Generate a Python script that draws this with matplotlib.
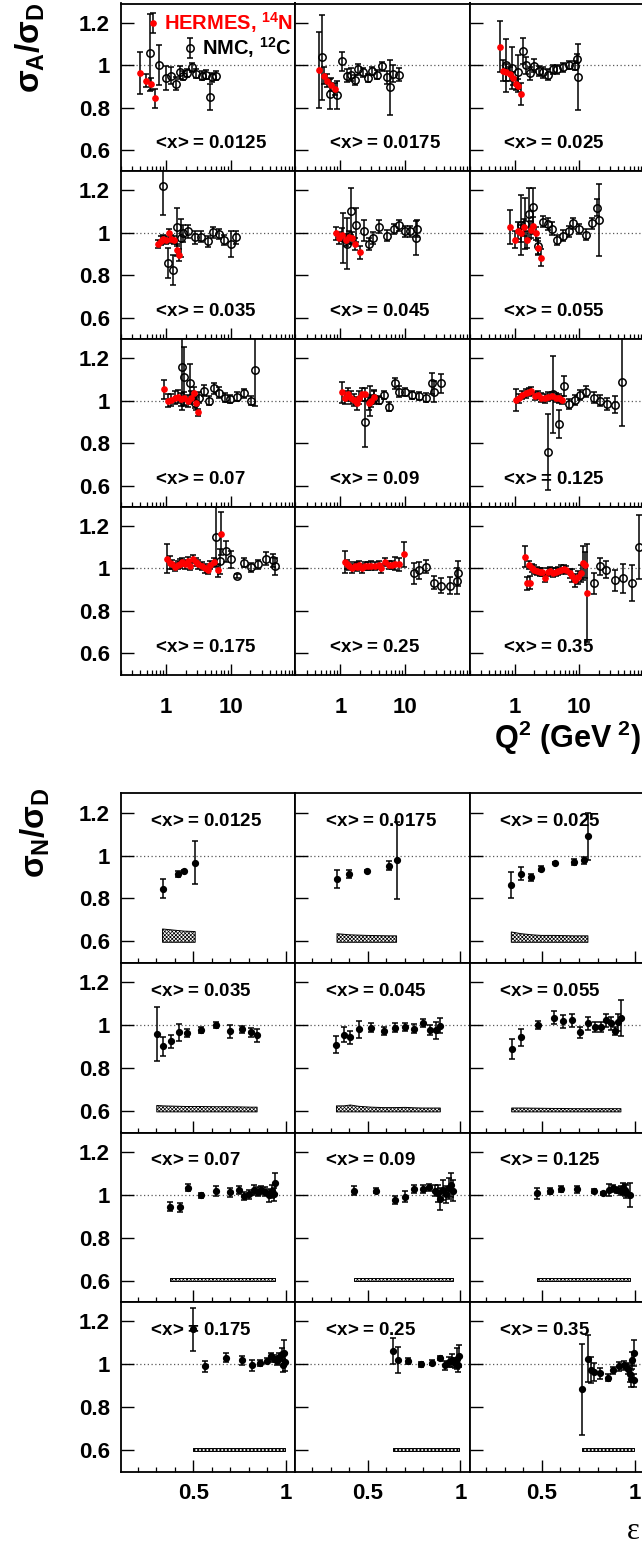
import matplotlib
matplotlib.use('Agg')
import matplotlib.pyplot as plt
from matplotlib.ticker import FixedLocator, FixedFormatter, LogLocator, NullFormatter, MultipleLocator

plt.rcParams['font.family'] = 'Liberation Sans'
plt.rcParams['font.weight'] = 'bold'
plt.rcParams['mathtext.fontset'] = 'custom'
plt.rcParams['mathtext.rm'] = 'Liberation Sans'
plt.rcParams['mathtext.it'] = 'Liberation Sans'
plt.rcParams['mathtext.bf'] = 'Liberation Sans:bold'
plt.rcParams['hatch.linewidth'] = 0.5

# <x> bins, one panel per bin in each grid
x_bins = ['0.0125', '0.0175', '0.025', '0.035', '0.045', '0.055',
          '0.07', '0.09', '0.125', '0.175', '0.25', '0.35']

# HERMES nitrogen: Q^2, ratio, stat. error per bin
hermes_q2 = [
    [0.40, 0.48, 0.59, 0.68],
    [0.47, 0.55, 0.62, 0.72, 0.82],
    [0.59, 0.65, 0.74, 0.83, 0.93, 1.04, 1.13, 1.24],
    [0.74, 0.82, 0.90, 0.99, 1.10, 1.20, 1.33, 1.47, 1.56],
    [0.85, 0.95, 1.07, 1.22, 1.37, 1.52, 1.70, 2.03],
    [0.84, 1.01, 1.12, 1.24, 1.40, 1.57, 1.76, 1.93, 2.10, 2.33, 2.51],
    [0.94, 1.06, 1.20, 1.35, 1.52, 1.71, 1.92, 2.17, 2.44, 2.68, 2.88, 3.17],
    [1.06, 1.17, 1.31, 1.48, 1.63, 1.81, 1.97, 2.17, 2.44, 2.75, 3.02, 3.33],
    [1.04, 1.17, 1.31, 1.48, 1.67, 1.81, 2.04, 2.30, 2.59, 2.92, 3.28, 3.84, 4.32, 4.86, 5.47],
    [1.02, 1.15, 1.25, 1.38, 1.52, 1.65, 1.79, 1.97, 2.17, 2.38, 2.65, 2.88, 3.17, 3.57,
     4.02, 4.42, 4.81, 5.42, 6.33, 7.12],
    [1.17, 1.27, 1.38, 1.52, 1.67, 1.81, 1.97, 2.17, 2.38, 2.68, 3.02, 3.49, 3.93, 4.32,
     4.98, 5.60, 6.33, 7.12, 8.20, 9.58],
    [1.45, 1.55, 1.67, 1.71, 1.83, 2.02, 2.22, 2.44, 2.68, 2.95, 3.25, 3.57, 3.93, 4.32,
     4.75, 5.22, 5.75, 6.33, 7.12, 7.80, 8.60, 9.50, 10.5, 11.5, 12.3, 13.2],
]
hermes_ratio = [
    [0.962, 0.927, 0.911, 0.844],
    [0.977, 0.950, 0.927, 0.908, 0.888],
    [1.086, 0.973, 0.966, 0.958, 0.938, 0.911, 0.903, 0.864],
    [0.948, 0.964, 0.972, 0.967, 0.998, 0.972, 0.967, 0.920, 0.896],
    [0.998, 0.976, 0.992, 0.967, 0.980, 0.976, 0.948, 0.909],
    [1.030, 0.967, 1.011, 0.998, 1.027, 0.967, 1.014, 1.033, 0.998, 0.930, 0.882],
    [1.053, 1.000, 1.003, 1.014, 1.019, 1.006, 1.011, 0.998, 1.014, 1.034, 0.987, 0.945],
    [1.039, 1.014, 1.030, 1.014, 1.003, 0.988, 1.014, 1.030, 1.030, 0.988, 0.998, 1.019],
    [1.003, 1.011, 1.027, 1.034, 1.042, 1.045, 1.023, 1.027, 1.014, 1.011, 1.019, 1.023,
     1.014, 1.011, 1.003],
    [1.047, 1.028, 1.019, 1.008, 1.016, 1.023, 1.031, 1.019, 1.034, 1.011, 1.044, 1.031,
     1.019, 1.011, 1.000, 0.992, 1.016, 1.031, 0.992, 1.164],
    [1.031, 1.019, 1.011, 1.000, 1.011, 1.008, 1.016, 1.000, 1.011, 1.011, 1.013, 1.011,
     1.016, 1.000, 1.031, 1.016, 1.016, 1.023, 1.019, 1.066],
    [1.055, 0.930, 1.016, 0.933, 1.003, 0.995, 0.989, 0.984, 0.984, 0.956, 0.984, 0.988,
     0.980, 0.984, 0.988, 0.995, 0.997, 0.992, 0.977, 0.966, 0.945, 0.958, 0.977, 1.028,
     1.016, 0.883],
]
hermes_err = [
    [0.10, 0.03, 0.03, 0.045],
    [0.18, 0.04, 0.03, 0.03, 0.03],
    [0.12, 0.05, 0.04, 0.035, 0.03, 0.03, 0.03, 0.05],
    [0.02, 0.02, 0.02, 0.02, 0.02, 0.02, 0.02, 0.03, 0.03],
    [0.03, 0.03, 0.03, 0.03, 0.03, 0.03, 0.03, 0.03],
    [0.08, 0.04, 0.04, 0.04, 0.04, 0.04, 0.04, 0.04, 0.03, 0.03, 0.04],
    [0.045, 0.03, 0.03, 0.03, 0.03, 0.03, 0.03, 0.03, 0.03, 0.03, 0.03, 0.015],
    [0.05, 0.03, 0.03, 0.03, 0.03, 0.03, 0.03, 0.03, 0.03, 0.03, 0.03, 0.03],
    [0.05, 0.02, 0.02, 0.02, 0.02, 0.02, 0.02, 0.02, 0.02, 0.02, 0.02, 0.02, 0.02, 0.02, 0.02],
    [0.07, 0.03, 0.02, 0.02, 0.02, 0.02, 0.02, 0.02, 0.02, 0.02, 0.02, 0.02, 0.02, 0.02,
     0.02, 0.02, 0.02, 0.02, 0.03, 0.10],
    [0.05, 0.02, 0.02, 0.02, 0.02, 0.02, 0.02, 0.02, 0.02, 0.02, 0.02, 0.02, 0.02, 0.02,
     0.02, 0.02, 0.02, 0.03, 0.03, 0.06],
    [0.05, 0.03, 0.02, 0.03, 0.02, 0.02, 0.02, 0.02, 0.02, 0.02, 0.02, 0.02, 0.02, 0.02,
     0.02, 0.02, 0.02, 0.02, 0.02, 0.03, 0.03, 0.03, 0.04, 0.08, 0.06, 0.23],
]

# NMC carbon: Q^2, ratio, stat. error per bin
nmc_q2 = [
    [0.56, 0.77, 0.99, 1.21, 1.43, 1.63, 1.83, 2.07, 2.50, 2.95, 3.60, 4.20, 4.75, 5.20, 5.95],
    [0.52, 0.68, 0.90, 1.07, 1.25, 1.44, 1.67, 1.88, 2.24, 2.68, 3.13, 3.70, 4.36, 5.30,
     5.95, 6.50, 8.00],
    [0.74, 0.92, 1.11, 1.32, 1.52, 1.73, 1.99, 2.36, 2.78, 3.28, 3.88, 4.59, 5.55, 6.94,
     8.50, 9.30, 9.45],
    [0.90, 1.07, 1.27, 1.47, 1.70, 1.85, 2.20, 2.75, 3.43, 4.47, 5.32, 6.60, 8.00, 10.2, 11.9],
    [1.10, 1.27, 1.47, 1.76, 2.30, 2.76, 3.20, 3.97, 5.30, 6.75, 8.20, 9.95, 11.8, 14.8, 15.4],
    [1.26, 1.46, 1.66, 1.93, 2.33, 2.70, 3.26, 3.77, 4.50, 5.65, 6.80, 8.10, 10.05, 12.5,
     15.5, 18.5, 20.0],
    [1.75, 1.92, 2.36, 2.75, 3.28, 3.79, 4.64, 5.54, 6.62, 8.20, 9.83, 12.4, 16.2, 20.5, 23.9],
    [2.38, 2.82, 3.36, 4.02, 4.69, 5.60, 6.94, 8.20, 10.1, 12.6, 16.4, 20.8, 26.4, 28.0, 36.3],
    [3.32, 3.93, 4.81, 5.75, 6.95, 8.50, 10.2, 12.9, 16.7, 21.2, 27.0, 36.3, 45.0],
    [5.96, 6.86, 8.50, 10.2, 12.7, 16.2, 20.5, 26.9, 35.5, 45.0, 47.7],
    [13.7, 16.4, 20.8, 28.0, 36.7, 49.6, 64.5, 66.6],
    [16.8, 20.8, 25.6, 35.5, 47.7, 65.6, 83.0],
]
nmc_ratio = [
    [1.059, 1.000, 0.939, 0.950, 0.912, 0.966, 0.950, 0.962, 0.989, 0.960, 0.950, 0.955,
     0.850, 0.942, 0.950],
    [1.036, 0.864, 0.860, 1.017, 0.950, 0.955, 0.930, 0.980, 0.966, 0.939, 0.973, 0.955,
     0.994, 0.942, 0.895, 0.960, 0.955],
    [1.000, 0.986, 0.966, 1.067, 1.000, 0.962, 0.997, 0.973, 0.966, 0.955, 0.980, 0.980,
     0.989, 1.000, 0.997, 1.031, 0.945],
    [1.223, 0.857, 0.827, 1.027, 0.976, 0.998, 1.008, 0.980, 0.983, 0.960, 1.003, 0.995,
     0.967, 0.948, 0.980],
    [0.976, 0.948, 1.102, 1.035, 1.010, 0.948, 0.976, 1.030, 0.987, 1.019, 1.035, 1.008,
     1.008, 0.976, 1.019],
    [1.038, 1.042, 1.090, 1.120, 0.936, 1.053, 1.042, 1.019, 0.967, 0.987, 1.008, 1.045,
     1.019, 0.992, 1.045, 1.118, 1.061],
    [1.158, 1.113, 1.084, 0.987, 1.014, 1.047, 1.000, 1.058, 1.038, 1.014, 1.008, 1.019,
     1.034, 1.000, 1.144],
    [0.900, 0.998, 1.014, 1.003, 1.027, 0.972, 1.081, 1.042, 1.042, 1.027, 1.023, 1.014,
     1.081, 1.042, 1.081],
    [0.758, 1.030, 0.889, 1.069, 0.984, 1.003, 1.027, 1.042, 1.014, 1.000, 0.984, 0.980, 1.089],
    [1.148, 1.034, 1.081, 1.044, 0.966, 1.028, 1.005, 1.019, 1.047, 1.039, 1.011],
    [0.977, 0.992, 1.008, 0.934, 0.919, 0.919, 0.940, 0.977],
    [0.930, 1.011, 0.995, 0.945, 0.953, 0.933, 1.100],
]
nmc_err = [
    [0.18, 0.093, 0.055, 0.04, 0.03, 0.03, 0.02, 0.02, 0.02, 0.02, 0.02, 0.02, 0.06, 0.02, 0.02],
    [0.20, 0.07, 0.065, 0.045, 0.03, 0.03, 0.025, 0.025, 0.02, 0.02, 0.02, 0.02, 0.02, 0.03,
     0.13, 0.04, 0.03],
    [0.125, 0.10, 0.08, 0.06, 0.04, 0.03, 0.03, 0.025, 0.025, 0.025, 0.02, 0.02, 0.02, 0.02,
     0.02, 0.02, 0.155],
    [0.14, 0.07, 0.07, 0.09, 0.09, 0.04, 0.03, 0.03, 0.025, 0.025, 0.025, 0.025, 0.025, 0.06, 0.03],
    [0.12, 0.12, 0.11, 0.08, 0.05, 0.03, 0.03, 0.03, 0.025, 0.025, 0.025, 0.025, 0.025, 0.08, 0.04],
    [0.14, 0.12, 0.12, 0.09, 0.04, 0.025, 0.03, 0.03, 0.025, 0.025, 0.025, 0.025, 0.025, 0.025,
     0.025, 0.04, 0.17],
    [0.20, 0.14, 0.09, 0.02, 0.025, 0.025, 0.02, 0.025, 0.025, 0.02, 0.02, 0.02, 0.02, 0.02, 0.17],
    [0.12, 0.07, 0.03, 0.02, 0.02, 0.02, 0.025, 0.025, 0.02, 0.02, 0.02, 0.02, 0.05, 0.05, 0.045],
    [0.18, 0.18, 0.065, 0.045, 0.025, 0.025, 0.025, 0.025, 0.025, 0.025, 0.03, 0.04, 0.21],
    [0.14, 0.06, 0.05, 0.04, 0.01, 0.02, 0.02, 0.02, 0.03, 0.03, 0.04],
    [0.05, 0.04, 0.03, 0.03, 0.035, 0.04, 0.06, 0.06],
    [0.05, 0.04, 0.04, 0.05, 0.07, 0.085, 0.15],
]

# HERMES nitrogen vs epsilon: ratio, stat. error, systematic band height
eps = [
    [0.334, 0.415, 0.450, 0.510],
    [0.335, 0.400, 0.496, 0.613, 0.656],
    [0.335, 0.388, 0.443, 0.496, 0.569, 0.673, 0.726, 0.748],
    [0.303, 0.336, 0.380, 0.422, 0.464, 0.539, 0.623, 0.698, 0.760, 0.813, 0.844],
    [0.332, 0.372, 0.407, 0.452, 0.520, 0.586, 0.648, 0.703, 0.751, 0.798, 0.835, 0.868, 0.892],
    [0.337, 0.388, 0.479, 0.563, 0.615, 0.662, 0.704, 0.750, 0.785, 0.816, 0.845, 0.871,
     0.896, 0.911, 0.926],
    [0.374, 0.430, 0.471, 0.541, 0.623, 0.698, 0.749, 0.775, 0.800, 0.826, 0.848, 0.866,
     0.888, 0.910, 0.925, 0.936, 0.943],
    [0.427, 0.544, 0.646, 0.703, 0.751, 0.796, 0.833, 0.862, 0.880, 0.893, 0.908, 0.924,
     0.939, 0.952, 0.959],
    [0.476, 0.543, 0.602, 0.690, 0.779, 0.827, 0.860, 0.882, 0.906, 0.926, 0.938, 0.948,
     0.955, 0.973],
    [0.500, 0.565, 0.675, 0.760, 0.815, 0.859, 0.897, 0.919, 0.936, 0.952, 0.963, 0.977,
     0.981, 0.987, 0.992],
    [0.637, 0.666, 0.718, 0.787, 0.849, 0.891, 0.917, 0.939, 0.956, 0.972, 0.983, 0.990, 0.994],
    [0.717, 0.750, 0.765, 0.783, 0.814, 0.854, 0.884, 0.916, 0.944, 0.962, 0.973, 0.981,
     0.988, 0.995, 0.995],
]
eps_ratio = [
    [0.845, 0.914, 0.930, 0.966],
    [0.892, 0.914, 0.930, 0.953, 0.978],
    [0.864, 0.916, 0.898, 0.939, 0.966, 0.970, 0.978, 1.090],
    [0.959, 0.902, 0.925, 0.967, 0.964, 0.977, 1.000, 0.972, 0.980, 0.967, 0.952],
    [0.909, 0.956, 0.944, 0.980, 0.988, 0.972, 0.988, 0.992, 0.984, 1.011, 0.977, 0.977, 0.998],
    [0.889, 0.944, 1.000, 1.034, 1.019, 1.023, 0.967, 1.008, 0.992, 0.992, 1.023, 1.008,
     0.972, 1.014, 1.034],
    [0.944, 0.941, 1.033, 0.998, 1.017, 1.011, 1.022, 0.995, 1.002, 1.022, 1.014, 1.022,
     1.014, 0.998, 1.017, 1.003, 1.053],
    [1.019, 1.019, 0.975, 0.991, 1.027, 1.027, 1.034, 1.019, 1.006, 0.980, 1.022, 1.003,
     1.030, 1.045, 1.019],
    [1.006, 1.017, 1.027, 1.025, 1.017, 1.006, 1.022, 1.030, 1.022, 1.019, 1.030, 1.022,
     1.014, 0.998],
    [1.163, 0.991, 1.031, 1.019, 0.995, 1.006, 1.016, 1.039, 1.027, 1.016, 1.034, 1.047,
     0.995, 1.053, 1.011],
    [1.063, 1.019, 1.016, 1.000, 1.008, 1.030, 0.995, 1.011, 1.019, 1.006, 1.027, 0.995, 1.038],
    [0.883, 1.027, 0.972, 0.964, 0.959, 0.938, 0.972, 0.991, 0.995, 0.980, 0.956, 0.933,
     1.019, 1.053, 0.925],
]
eps_err = [
    [0.045, 0.015, 0.005, 0.10],
    [0.043, 0.02, 0.005, 0.02, 0.18],
    [0.06, 0.03, 0.015, 0.012, 0.005, 0.012, 0.015, 0.11],
    [0.125, 0.045, 0.03, 0.04, 0.02, 0.015, 0.015, 0.03, 0.015, 0.02, 0.03],
    [0.04, 0.035, 0.03, 0.038, 0.02, 0.02, 0.02, 0.02, 0.02, 0.02, 0.025, 0.04, 0.035],
    [0.045, 0.04, 0.02, 0.03, 0.03, 0.03, 0.025, 0.03, 0.025, 0.025, 0.03, 0.03, 0.02, 0.04, 0.085],
    [0.02, 0.02, 0.015, 0.012, 0.025, 0.022, 0.02, 0.02, 0.02, 0.025, 0.02, 0.02, 0.02,
     0.03, 0.03, 0.03, 0.05],
    [0.02, 0.012, 0.02, 0.025, 0.02, 0.02, 0.015, 0.025, 0.04, 0.05, 0.045, 0.04, 0.05, 0.055, 0.05],
    [0.025, 0.015, 0.015, 0.015, 0.008, 0.005, 0.03, 0.015, 0.015, 0.02, 0.025, 0.03, 0.03, 0.055],
    [0.10, 0.025, 0.02, 0.02, 0.025, 0.012, 0.012, 0.015, 0.015, 0.02, 0.02, 0.03, 0.03, 0.06, 0.04],
    [0.06, 0.06, 0.015, 0.01, 0.01, 0.01, 0.02, 0.025, 0.03, 0.025, 0.05, 0.03, 0.05],
    [0.21, 0.11, 0.06, 0.04, 0.025, 0.015, 0.015, 0.02, 0.02, 0.025, 0.04, 0.04, 0.04, 0.06, 0.03],
]
eps_syst = [
    [0.062, 0.055, 0.052, 0.050],
    [0.040, 0.035, 0.032, 0.030, 0.030],
    [0.048, 0.040, 0.035, 0.032, 0.032, 0.030, 0.030, 0.030],
    [0.030, 0.028, 0.027, 0.026, 0.025, 0.025, 0.024, 0.024, 0.023, 0.022, 0.022],
    [0.028, 0.028, 0.032, 0.026, 0.022, 0.020, 0.020, 0.021, 0.019, 0.018, 0.018, 0.018, 0.018],
    [0.018, 0.018, 0.017, 0.016, 0.016, 0.015, 0.015, 0.015, 0.015, 0.015, 0.015, 0.015,
     0.015, 0.015, 0.015],
    [0.016, 0.016, 0.016, 0.016, 0.016, 0.016, 0.016, 0.016, 0.016, 0.016, 0.016, 0.016,
     0.016, 0.016, 0.016, 0.016, 0.016],
    [0.016, 0.016, 0.016, 0.016, 0.016, 0.016, 0.016, 0.016, 0.016, 0.016, 0.016, 0.016,
     0.016, 0.016, 0.016],
    [0.016, 0.016, 0.016, 0.016, 0.016, 0.016, 0.016, 0.016, 0.016, 0.016, 0.016, 0.016,
     0.016, 0.016],
    [0.016, 0.016, 0.016, 0.016, 0.016, 0.016, 0.016, 0.016, 0.016, 0.016, 0.016, 0.016,
     0.016, 0.016, 0.016],
    [0.016, 0.016, 0.016, 0.016, 0.016, 0.016, 0.016, 0.016, 0.016, 0.016, 0.016, 0.016, 0.016],
    [0.016, 0.016, 0.016, 0.016, 0.016, 0.016, 0.016, 0.016, 0.016, 0.016, 0.016, 0.016,
     0.016, 0.016, 0.016],
]
syst_base = 0.596

y_ticks = [0.6, 0.8, 1.0, 1.2]
y_labels = ['0.6', '0.8', '1', '1.2']

W, H = 642, 1548
fig = plt.figure(figsize=(W / 100, H / 100), dpi=100)

col_left = [121.0, 295.3, 469.6]
col_w = 174.3


def make_axes(left, top, w, h):
    return fig.add_axes([left / W, 1 - (top + h) / H, w / W, h / H])


def style_frame(ax, col):
    for s in ax.spines.values():
        s.set_linewidth(1.3)
    ax.set_ylim(0.5, 1.29)
    ax.yaxis.set_major_locator(FixedLocator(y_ticks))
    ax.yaxis.set_major_formatter(FixedFormatter(y_labels))
    ax.tick_params(axis='y', which='major', direction='in', length=9.5, width=1.0,
                   labelsize=16, pad=8, left=True, right=False, labelleft=(col == 0))
    ax.axhline(1.0, color='0.35', ls=(0, (1, 2)), lw=0.9, zorder=1)


def bin_label(ax, x, y, xb):
    # relation spacing after '>' already separates it from '='
    ax.text(x, y, r'$<\!\mathbf{x}\!>$' + '= ' + xb, transform=ax.transAxes,
            fontsize=13.5, ha='left', va='baseline', zorder=3)


# Q^2 grid
top_rows = [3.5, 171.3, 339.1, 506.9]
top_h = 167.8
for i, xb in enumerate(x_bins):
    r, c = divmod(i, 3)
    ax = make_axes(col_left[c], top_rows[r], col_w, top_h)
    style_frame(ax, c)
    ax.set_xscale('log')
    ax.set_xlim(0.2, 100)
    ax.xaxis.set_major_locator(FixedLocator([1, 10, 100]))
    ax.xaxis.set_major_formatter(FixedFormatter(['1', '10', '']))
    ax.xaxis.set_minor_locator(LogLocator(base=10, subs=range(2, 10)))
    ax.xaxis.set_minor_formatter(NullFormatter())
    ax.tick_params(axis='x', which='major', direction='in', length=7.7, width=1.0,
                   labelsize=16, pad=16, top=False, labelbottom=(r == 3))
    ax.tick_params(axis='x', which='minor', direction='in', length=3.6, width=0.9, top=False)

    h_nmc = ax.errorbar(nmc_q2[i], nmc_ratio[i], yerr=nmc_err[i], fmt='o', ms=5.3,
                        mfc='none', mec='black', mew=1.1, ecolor='black', elinewidth=1.1,
                        capsize=2.0, capthick=1.1, zorder=3)
    h_her = ax.errorbar(hermes_q2[i], hermes_ratio[i], yerr=hermes_err[i], fmt='o', ms=3.8,
                        mfc='red', mec='red', ecolor='black', elinewidth=1.1,
                        capsize=2.0, capthick=1.1, zorder=4)
    bin_label(ax, 0.175, 0.137, xb)

    if i == 0:
        leg1 = ax.legend([h_her], [r'HERMES, $^{\mathbf{14}}$N'], loc='upper right',
                         bbox_to_anchor=(0.985, 0.958), frameon=False, fontsize=14.5,
                         handlelength=0.5, handletextpad=0.3, borderpad=0, borderaxespad=0)
        for t in leg1.get_texts():
            t.set_color('red')
        ax.add_artist(leg1)
        ax.legend([h_nmc], [r'NMC, $^{\mathbf{12}}$C'], loc='upper right',
                  bbox_to_anchor=(0.975, 0.81), frameon=False, fontsize=14.5,
                  handlelength=0.5, handletextpad=0.3, borderpad=0, borderaxespad=0)

fig.text(641 / W, 1 - 719 / H, r'$\mathbf{Q^{2}\ (GeV^{\ 2})}$', fontsize=22,
         ha='right', va='top')
fig.text(30 / W, 1 - 2 / H, r'$\sigma_{\mathbf{A}}/\sigma_{\mathbf{D}}$', fontsize=24,
         rotation=90, ha='center', va='top')

# epsilon grid
bot_rows = [793.3, 962.9, 1132.5, 1302.1]
bot_h = 169.6
for i, xb in enumerate(x_bins):
    r, c = divmod(i, 3)
    ax = make_axes(col_left[c], bot_rows[r], col_w, bot_h)
    style_frame(ax, c)
    ax.set_xlim(0.11, 1.05)
    ax.xaxis.set_major_locator(FixedLocator([0.5, 1.0]))
    ax.xaxis.set_major_formatter(FixedFormatter(['0.5', '1']))
    ax.xaxis.set_minor_locator(MultipleLocator(0.1))
    ax.tick_params(axis='x', which='major', direction='in', length=8.4, width=1.0,
                   labelsize=16, pad=8, top=False, labelbottom=(r == 3))
    ax.tick_params(axis='x', which='minor', direction='in', length=3.6, width=0.9, top=False)

    top_edge = [syst_base + s for s in eps_syst[i]]
    ax.fill_between(eps[i], syst_base, top_edge, facecolor='white', edgecolor='black',
                    hatch='x' * 9, lw=0.7, zorder=2)
    ax.errorbar(eps[i], eps_ratio[i], yerr=eps_err[i], fmt='o', ms=4.2, mfc='black',
                mec='black', ecolor='black', elinewidth=1.1, capsize=2.0, capthick=1.1,
                zorder=4)
    bin_label(ax, 0.151, 0.807, xb)

fig.text(35 / W, 1 - 787 / H, r'$\sigma_{\mathbf{N}}/\sigma_{\mathbf{D}}$', fontsize=24,
         rotation=90, ha='center', va='top')
fig.text(640 / W, 1 - 1546 / H, 'ε', fontsize=22, family='Liberation Serif',
         fontweight='normal', ha='right', va='bottom')

fig.savefig('out.png', dpi=100)
